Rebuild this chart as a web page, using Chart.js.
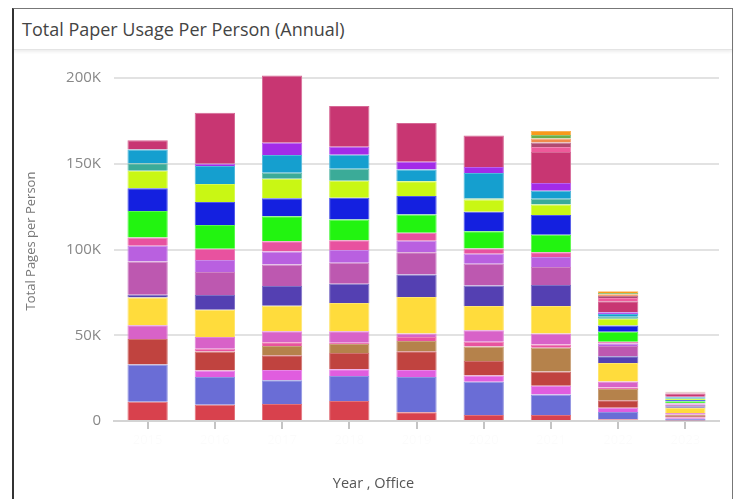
<!DOCTYPE html>
<html>
<head>
<meta charset="utf-8">
<script src="https://cdn.jsdelivr.net/npm/chart.js@4.4.1/dist/chart.umd.min.js"></script>
<style>
  html, body { margin: 0; padding: 0; background: #fff; width: 739px; height: 499px; overflow: hidden; font-family: "Open Sans", sans-serif; }
  #card { position: absolute; left: 12px; top: 8px; width: 721px; height: 520px; border: 1px solid #777; border-left: 2px solid #333; box-sizing: border-box; }
  #header { position: absolute; left: 0; top: 0; right: 0; height: 40px; border-bottom: 1px solid #e4e4e4; box-shadow: 0 2px 3px rgba(0,0,0,0.07); }
  #header span { position: absolute; left: 8px; top: 0; line-height: 40px; font-size: 18px; color: #444; }
  #wrap { position: absolute; left: 14px; top: 39px; width: 720px; height: 460px; }
  #xtitle { position: absolute; left: 13px; width: 721px; top: 473px; text-align: center; font-size: 14.5px; color: #555; }
</style>
</head>
<body>
<div id="card"><div id="header"><span>Total Paper Usage Per Person (Annual)</span></div></div>
<div id="wrap"><canvas id="chart"></canvas></div>
<div id="xtitle">Year , Office</div>
<script>
// categories (year , office)
const categories = ["2015", "2016", "2017", "2018", "2019", "2020", "2021", "2022", "2023"];

// pages per person, one array per department (bottom of stack first), in thousands
const accounting  = [11.2,  9.5,  9.9, 11.7,  5.1,  3.5,  3.5, 1.0, 0.3];
const admin       = [21.7, 16.1, 13.8, 14.6, 20.6, 19.4, 12.0, 4.3, 1.0];
const audit       = [0,     3.9,  6.0,  3.9,  4.1,  3.7,  5.0, 2.5, 0.8];
const billing     = [14.9, 11.1,  8.6,  9.5, 10.9,  8.4,  8.4, 4.3, 0.8];
const compliance  = [0,     0,    5.4,  5.2,  6.0,  8.4, 13.8, 6.6, 0.6];
const contracts   = [0,     1.6,  2.3,  0.8,  2.3,  2.9,  1.9, 0.8, 0.3];
const design      = [8.1,   6.8,  6.4,  6.6,  2.1,  6.6,  6.4, 3.5, 0.8];
const engineering = [16.1, 15.9, 14.8, 16.5, 21.2, 14.2, 16.1, 10.9, 3.2];
const facilities  = [1.6,   8.6, 11.5, 11.3, 13.2, 12.0, 12.2, 3.9, 0.8];
const finance     = [19.4, 13.4, 12.6, 12.2, 13.0, 12.6, 10.5, 6.0, 1.0];
const hr          = [9.3,   7.0,  7.6,  7.4,  6.6,  5.8,  5.8, 1.4, 0.6];
const it          = [4.7,   6.6,  6.0,  5.8,  4.7,  3.1,  2.9, 1.0, 0.3];
const legal       = [15.5, 13.8, 14.6, 12.1, 10.7, 10.1, 10.1, 5.8, 1.0];
const logistics   = [13.2, 13.4, 10.5, 12.6, 10.7, 11.3, 11.5, 3.7, 0.8];
const marketing   = [10.3, 10.5, 11.3,  9.9,  8.7,  7.2,  6.2, 3.9, 0.6];
const operations  = [4.3,   0,    3.5,  7.0,  0,    0.8,  3.3, 1.2, 0.4];
const payroll     = [8.1,  10.5, 10.3,  8.2,  6.8, 14.6,  4.7, 1.6, 0.5];
const planning    = [0,     1.4,  7.2,  4.7,  4.5,  3.5,  4.5, 1.0, 0.3];
const procurement = [5.4,  29.7, 39.3, 23.7, 22.7, 18.5, 18.1, 6.4, 2.0];
const quality     = [0,     0,    0,    0,    0,    0,    2.9, 1.9, 0.3];
const research    = [0,     0,    0,    0,    0,    0,    2.7, 1.2, 0.2];
const sales       = [0,     0,    0,    0,    0,    0,    2.3, 1.0, 0.2];
const security    = [0,     0,    0,    0,    0,    0,    2.1, 0.8, 0.1];
const support     = [0,     0,    0,    0,    0,    0,    2.3, 1.0, 0.1];

const seriesNames = ["Accounting", "Admin", "Audit", "Billing", "Compliance", "Contracts", "Design",
  "Engineering", "Facilities", "Finance", "HR", "IT", "Legal", "Logistics", "Marketing", "Operations",
  "Payroll", "Planning", "Procurement", "Quality", "Research", "Sales", "Security", "Support"];
const seriesValues = [accounting, admin, audit, billing, compliance, contracts, design, engineering,
  facilities, finance, hr, it, legal, logistics, marketing, operations, payroll, planning, procurement,
  quality, research, sales, security, support];
const colors = ["#d8414d", "#6a6dd6", "#e05ddf", "#c0433f", "#b5824b", "#e8539f", "#d862c8", "#ffdc3c",
  "#5440b2", "#bd58b0", "#b960e0", "#e8529f", "#22f410", "#1420e0", "#c9f714", "#3bab98", "#159fcf",
  "#a32be8", "#c83672", "#ee5a9a", "#b04a70", "#f08a4b", "#6ab04c", "#f89a1c"];
const yTicks = [0, 50000, 100000, 150000, 200000];

function lighten(hex, t) {
  const n = parseInt(hex.slice(1), 16);
  const r = (n >> 16) & 255, g = (n >> 8) & 255, b = n & 255;
  const m = c => Math.round(c + (255 - c) * t);
  return `rgb(${m(r)},${m(g)},${m(b)})`;
}

const datasets = seriesNames.map((name, i) => ({
  label: name,
  data: seriesValues[i].map(v => v * 1000),
  backgroundColor: colors[i],
  borderColor: lighten(colors[i], 0.25),
  borderWidth: 1,
  borderSkipped: "bottom",
  categoryPercentage: 1.0,
  barPercentage: 0.6
}));

new Chart(document.getElementById("chart"), {
  type: "bar",
  data: { labels: categories, datasets: datasets },
  options: {
    responsive: true,
    maintainAspectRatio: false,
    animation: false,
    layout: { padding: { top: 0, right: 15, left: 0, bottom: 0 } },
    plugins: { legend: { display: false }, tooltip: { enabled: false } },
    scales: {
      x: {
        stacked: true,
        offset: true,
        grid: { display: true, drawOnChartArea: false, drawTicks: true, tickLength: 8, offset: false, color: "#c4c4c4", lineWidth: 2 },
        border: { display: true, color: "#d4d4d4", width: 2 },
        ticks: { color: "rgba(0,0,0,0.015)", font: { family: "Open Sans", size: 13 }, maxRotation: 0, autoSkip: false },
        afterFit: s => { s.height = 78; }
      },
      y: {
        stacked: true,
        min: 0,
        max: 210000,
        afterBuildTicks: s => { s.ticks = yTicks.map(v => ({ value: v })); },
        grid: { color: "#e2e2e2", lineWidth: 2, drawTicks: false },
        border: { display: false },
        ticks: {
          padding: 13,
          color: "#888",
          font: { family: "Open Sans", size: 15 },
          callback: v => v === 0 ? "0" : (v / 1000) + "K"
        },
        title: { display: true, text: "Total Pages per Person", color: "#777", font: { family: "Open Sans", size: 13 }, padding: { top: 9, bottom: 0 } },
        afterFit: s => { s.width = 100; }
      }
    }
  }
});
</script>
</body>
</html>
